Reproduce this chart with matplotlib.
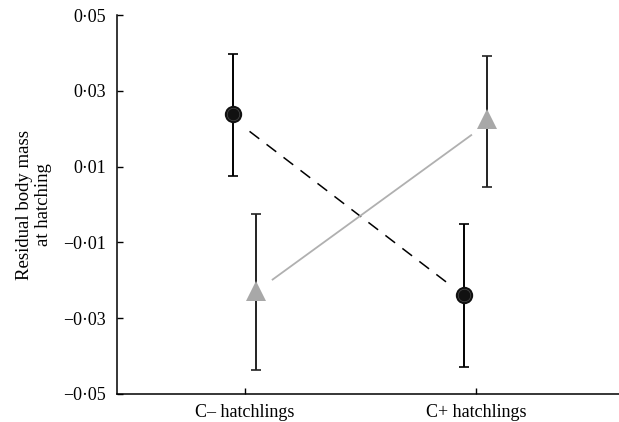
import matplotlib
matplotlib.use('Agg')
import matplotlib.pyplot as plt

plt.rcParams['font.family'] = ['Liberation Serif', 'DejaVu Serif']

# categories and values
groups = ['C\u2013 hatchlings', 'C+ hatchlings']
group_x = [0, 1]

circ_mean = [0.0239, -0.0240]
circ_lo = [0.0076, -0.0428]
circ_hi = [0.0397, -0.0052]

tri_mean = [-0.0228, 0.0225]
tri_lo = [-0.0436, 0.0047]
tri_hi = [-0.0026, 0.0391]

# fitted lines (end points)
dash_x = [0.02, 0.89]
dash_y = [0.0193, -0.0213]
grey_x = [0.12, 0.98]
grey_y = [-0.0198, 0.0183]

yticks = [-0.05, -0.03, -0.01, 0.01, 0.03, 0.05]
ytick_labels = ['\u22120\u00b705', '\u22120\u00b703', '\u22120\u00b701',
                '0\u00b701', '0\u00b703', '0\u00b705']

off = 0.05

fig = plt.figure(figsize=(6.19, 4.22), dpi=100)
ax = fig.add_axes([117/619, 28/422, 502/619, 379/422])

ax.plot(dash_x, dash_y, color='black', lw=1.1, dashes=(8, 6), zorder=1)
ax.plot(grey_x, grey_y, color='#b0b0b0', lw=1.3, zorder=1)

cx = [x - off for x in group_x]
tx = [x + off for x in group_x]

ax.errorbar(cx, circ_mean,
            yerr=[[m - l for m, l in zip(circ_mean, circ_lo)],
                  [h - m for m, h in zip(circ_mean, circ_hi)]],
            fmt='none', ecolor='black', elinewidth=1.4, capsize=3.5, capthick=1.2, zorder=2)
ax.errorbar(tx, tri_mean,
            yerr=[[m - l for m, l in zip(tri_mean, tri_lo)],
                  [h - m for m, h in zip(tri_mean, tri_hi)]],
            fmt='none', ecolor='#222222', elinewidth=1.4, capsize=3.5, capthick=1.2, zorder=2)

ax.plot(tx, tri_mean, linestyle='none', marker='^', markersize=14,
        color='#a8a8a8', markeredgewidth=0, zorder=3)
ax.plot(cx, circ_mean, linestyle='none', marker='o', markersize=12.5,
        color='#111111', markeredgewidth=0, zorder=4)
# faint inner ring seen on the circles
ax.plot(cx, circ_mean, linestyle='none', marker='o', markersize=9,
        markerfacecolor='none', markeredgecolor='white', markeredgewidth=0.5,
        alpha=0.25, zorder=5)

ax.set_xlim(-0.554, 1.62)
ax.set_ylim(-0.05, 0.05)
ax.set_xticks(group_x)
ax.set_xticklabels(groups, fontsize=13)
ax.set_yticks(yticks)
ax.set_yticklabels(ytick_labels, fontsize=13)
ax.tick_params(direction='in', length=4, width=1)
ax.tick_params(axis='y', pad=8)
ax.tick_params(axis='x', pad=7.5)

for s in ['top', 'right']:
    ax.spines[s].set_visible(False)
for s in ['left', 'bottom']:
    ax.spines[s].set_linewidth(1.1)

ax.set_ylabel('Residual body mass\nat hatching', fontsize=13.5, labelpad=8, linespacing=1.15)

fig.savefig('out.png', dpi=100)
